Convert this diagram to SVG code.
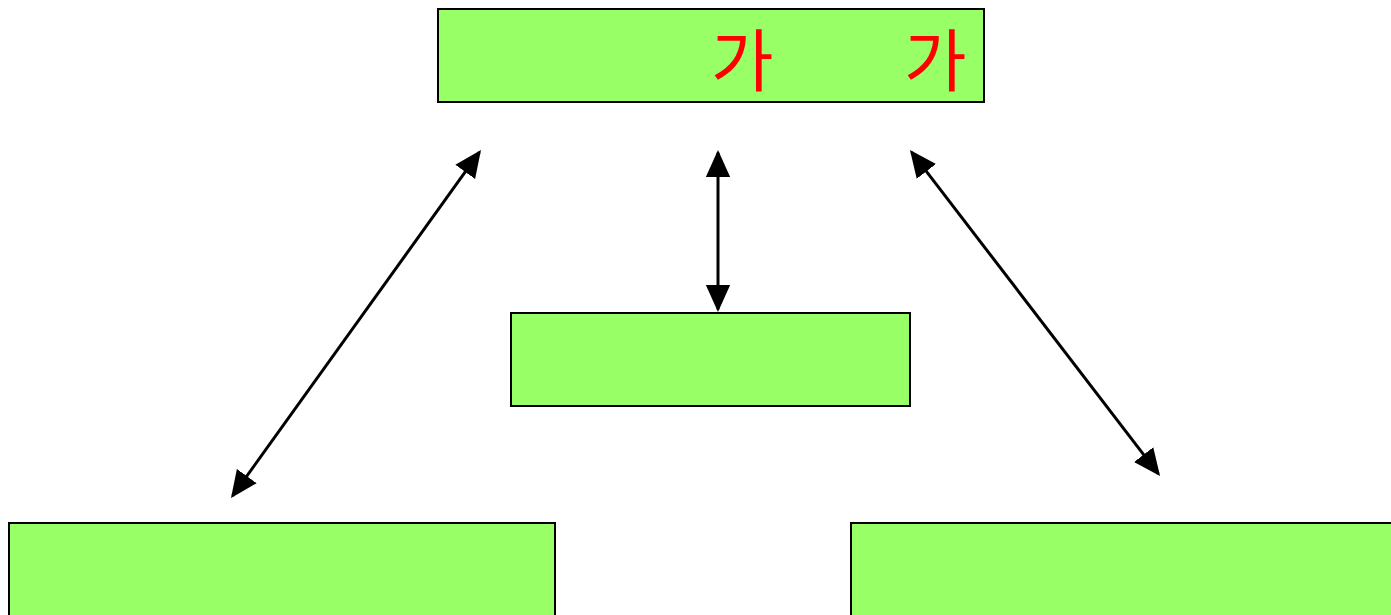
<svg xmlns="http://www.w3.org/2000/svg" width="1391" height="615" viewBox="0 0 1391 615">
  <style>
    .box { fill: #99FF66; stroke: #000000; stroke-width: 2; }
    .link { stroke: #000000; stroke-width: 3; fill: none; marker-start: url(#head); marker-end: url(#head); }
    .label { font-family: "Noto Sans CJK KR", "Noto Sans", sans-serif; font-size: 68px; fill: #FF0000; }
  </style>
  <defs>
    <!-- filled triangular arrowhead, reused at both ends of each link -->
    <marker id="head" viewBox="0 0 10 10" refX="9" refY="5" markerWidth="9" markerHeight="9" markerUnits="strokeWidth" orient="auto-start-reverse">
      <path d="M0,0.5 L10,5 L0,9.5 Z" fill="#000000"/>
    </marker>
  </defs>

  <g id="node-top">
    <rect class="box" x="438" y="9" width="546" height="93"/>
    <text class="label"><tspan x="711" y="86">가</tspan><tspan x="904" y="86">가</tspan></text>
  </g>
  <g id="node-center">
    <rect class="box" x="511" y="313" width="399" height="93"/>
  </g>
  <g id="node-left">
    <rect class="box" x="9" y="523" width="546" height="100"/>
  </g>
  <g id="node-right">
    <rect class="box" x="851" y="523" width="550" height="100"/>
  </g>

  <g id="connectors">
    <line class="link" x1="479.4" y1="152.2" x2="232.6" y2="495.8"/>
    <line class="link" x1="718" y1="152.7" x2="718" y2="309.3"/>
    <line class="link" x1="911.6" y1="152.1" x2="1158.4" y2="473.9"/>
  </g>
</svg>
